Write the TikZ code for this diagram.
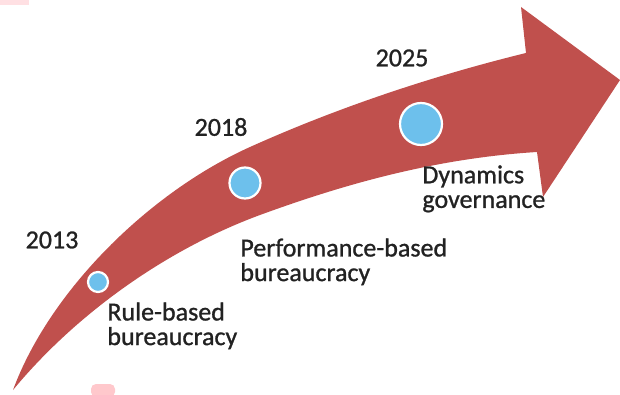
\documentclass[tikz,border=0pt]{standalone}
\usepackage{fontspec}
\setmainfont{Carlito}
\newfontfamily\labfont{Carlito}[FakeBold=1]
\definecolor{arrowred}{HTML}{C0504D}
\definecolor{dotblue}{HTML}{6DC0EC}
\definecolor{txt}{HTML}{222222}
\definecolor{patchA}{HTML}{FFE0E3}
\definecolor{patchB}{HTML}{FFC8CC}
\begin{document}
\begin{tikzpicture}[x=0.5pt,y=-0.5pt,
  year/.style={inner sep=0pt,anchor=center,text=txt,font=\labfont\fontsize{13}{14}\selectfont},
  label/.style={inner sep=0pt,anchor=north west,align=left,text=txt,font=\labfont\fontsize{13}{12.3}\selectfont},
  dot/.style={circle,fill=dotblue,draw=white,line width=1.1pt,inner sep=0pt}]
\useasboundingbox (0,0) rectangle (620,395);
% pink patches
\fill[patchA] (0,0) rectangle (29,5);
\fill[patchB,rounded corners=2.5pt] (91,397) -- (91,384) -- (115,384) -- (115,397) -- cycle;
% arrow
\fill[arrowred] (13,390)
  .. controls (50,290) and (150,192) .. (250,147)
  .. controls (340,106.5) and (436,75) .. (526,53)
  -- (521,7) -- (620,80) -- (543,197) -- (537,152)
  .. controls (440,158) and (350,182) .. (260,215)
  .. controls (165,250) and (75,315) .. (13,390) -- cycle;
% dots
\node[dot,minimum size=10pt] (d1) at (98,282) {};
\node[dot,minimum size=15.5pt] (d2) at (245,183) {};
\node[dot,minimum size=21pt] (d3) at (421,124) {};
% years
\node[year] (y1) at (52,240) {2013};
\node[year] (y2) at (221,127) {2018};
\node[year] (y3) at (402,58) {2025};
% labels
\node[label] (l1) at (107,302) {Rule-based\\bureaucracy};
\node[label] (l2) at (240,238) {Performance-based\\bureaucracy};
\node[label] (l3) at (422,165) {Dynamics\\governance};
\end{tikzpicture}
\end{document}
